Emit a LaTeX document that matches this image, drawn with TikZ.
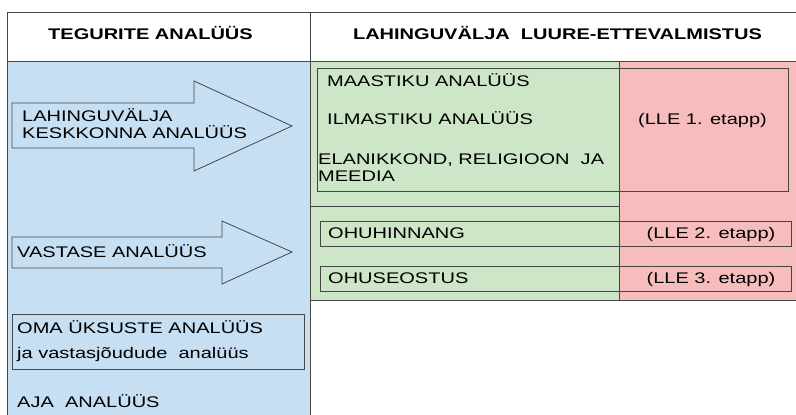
\documentclass[tikz,border=0pt]{standalone}
\usepackage{fontspec}
\setmainfont{Liberation Sans}[FakeStretch=1.3]
\usepackage{tikz}
\usetikzlibrary{positioning}
\definecolor{bluebg}{RGB}{199,223,243}
\definecolor{greenbg}{RGB}{204,230,199}
\definecolor{pinkbg}{RGB}{247,189,189}
\definecolor{linegray}{RGB}{70,70,70}
\tikzset{
  frame/.style={draw=linegray, line width=0.8pt},   % all borders
  txt/.style={anchor=base west, inner sep=0pt,
    font=\fontsize{15.4}{18}\selectfont},           % left aligned labels
  ctxt/.style={txt, anchor=base},                    % centred labels
  head/.style={ctxt, font=\fontsize{15.4}{18}\selectfont\bfseries}
}

\begin{document}
\begin{tikzpicture}[x=1pt, y=-1pt]
    \clip (0,0) rectangle (796,415);

    % header row
    \draw[frame] (7,12) rectangle (810,61);
    \draw[frame] (310,12) -- (310,61);
    \node[head] (hfactor) at (150.5,39) {TEGURITE ANALÜÜS};
    \node[head] (hlle) at (557.5,39) {LAHINGUVÄLJA\ \ LUURE-ETTEVALMISTUS};

    % coloured columns
    \filldraw[frame, fill=bluebg] (7,61) rectangle (310,430);
    \filldraw[frame, fill=greenbg] (310,61) rectangle (619,300);
    \filldraw[frame, fill=pinkbg] (619,61) rectangle (810,300);
    \draw[frame] (310,206) -- (619,206); % splits the green column

    % big arrows on the left
    \draw[frame, fill=bluebg] (12,103) -- (194,103) -- (194,81) -- (292,126)
      -- (194,171) -- (194,148) -- (12,148) -- cycle;
    \draw[frame, fill=bluebg] (12,237) -- (222,237) -- (222,221) -- (292,252)
      -- (222,284) -- (222,268) -- (12,268) -- cycle;
    \node[txt] (env1) at (22,121) {LAHINGUVÄLJA};
    \node[txt] (env2) at (22,138) {KESKKONNA ANALÜÜS};
    \node[txt] (enemy) at (17,257.5) {VASTASE ANALÜÜS};

    % own forces and time
    \draw[frame] (12,314) rectangle (304,369);
    \node[txt] (own1) at (17,333) {OMA ÜKSUSTE ANALÜÜS};
    \node[txt] (own2) at (17,358) {ja vastasjõudude\ \ analüüs};
    \node[txt] (time) at (17,407) {AJA\ \ ANALÜÜS};

    % stage 1
    \draw[frame] (317,68) rectangle (788,191);
    \node[txt] (terrain) at (327,86) {MAASTIKU ANALÜÜS};
    \node[txt] (weather) at (327,124) {ILMASTIKU ANALÜÜS};
    \node[txt] (civil1) at (318,164) {ELANIKKOND, RELIGIOON\ \ JA};
    \node[txt] (civil2) at (318,181.5) {MEEDIA};
    \node[ctxt] (stage1) at (702.5,124) {(LLE 1. etapp)};

    % stages 2 and 3
    \draw[frame] (320,221) rectangle (791,246);
    \node[txt] (threat) at (328,238) {OHUHINNANG};
    \node[ctxt] (stage2) at (711,238) {(LLE 2. etapp)};
    \draw[frame] (320,266) rectangle (791,291);
    \node[txt] (threatint) at (328,283) {OHUSEOSTUS};
    \node[ctxt] (stage3) at (711,283) {(LLE 3. etapp)};
\end{tikzpicture}
\end{document}
